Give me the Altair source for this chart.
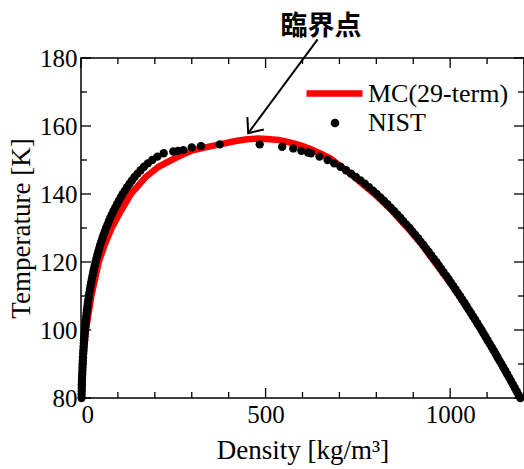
import altair as alt
import pandas as pd

# NIST saturation curve (oxygen): temperature grid [K] and the two branch densities [kg/m^3]
nist_temp = [80, 81, 82, 83, 84, 85, 86, 87, 88, 89,
             90, 91, 92, 93, 94, 95, 96, 97, 98, 99,
             100, 101, 102, 103, 104, 105, 106, 107, 108, 109,
             110, 111, 112, 113, 114, 115, 116, 117, 118, 119,
             120, 121, 122, 123, 124, 125, 126, 127, 128, 129,
             130, 131, 132, 133, 134, 135, 136, 137, 138, 139,
             140, 141, 142, 143, 144, 145, 146, 147, 148, 149,
             150, 151, 152]
nist_rho_vapor = [1.5, 1.7, 1.9, 2.1, 2.3, 2.5, 2.9, 3.3, 3.7, 4.1,
                  4.4, 4.9, 5.4, 5.9, 6.4, 7.0, 7.7, 8.4, 9.1, 9.8,
                  10.5, 11.4, 12.3, 13.2, 14.2, 15.2, 16.4, 17.6, 18.8, 20.1,
                  21.4, 22.9, 24.4, 26.0, 27.7, 29.5, 31.4, 33.3, 35.3, 37.4,
                  39.5, 41.9, 44.3, 46.8, 49.4, 52.0, 55.1, 58.2, 61.3, 64.6,
                  68.0, 71.8, 75.6, 79.6, 83.7, 88.0, 92.8, 97.7, 102.7, 107.8,
                  113.0, 118.9, 125.0, 131.4, 138.0, 145.0, 153.0, 161.5, 170.5, 181.0,
                  193.0, 207.0, 224.0]
nist_rho_liquid = [1190.0, 1185.0, 1180.0, 1175.0, 1169.9, 1164.8, 1159.7, 1154.5, 1149.3, 1144.1,
                   1138.9, 1133.5, 1128.2, 1122.9, 1117.6, 1112.3, 1106.8, 1101.3, 1095.8, 1090.3,
                   1084.8, 1079.2, 1073.5, 1067.8, 1062.0, 1056.3, 1050.4, 1044.5, 1038.5, 1032.6,
                   1026.6, 1020.4, 1014.2, 1008.0, 1001.7, 995.5, 989.0, 982.0, 975.5, 969.0,
                   962.6, 955.5, 948.5, 941.5, 934.5, 927.6, 920.0, 913.0, 905.0, 897.5,
                   890.0, 881.5, 873.0, 865.0, 856.5, 848.0, 839.0, 830.0, 820.5, 811.0,
                   801.0, 791.0, 780.0, 769.0, 757.0, 744.5, 731.5, 718.0, 703.0, 686.0,
                   668.0, 646.0, 623.0]
# points close to the critical point
crit_temp = [152.5, 152.7, 152.9, 153.7, 154.1, 154.6, 154.6, 153.9, 153.4, 152.7, 152.2]
crit_rho = [250, 263, 277, 300, 325, 376, 484, 545, 575, 597, 615]

# MC(29-term) coexistence curve, traced from the vapour end to the liquid end
mc_rho = [1.5, 5, 13.5, 28, 48, 64, 83, 108, 135, 175, 210, 245, 268, 300, 340, 377,
          415, 450, 480, 504, 535, 560, 593, 620, 647, 675, 740, 795, 843, 885, 924,
          958, 992, 1024, 1084, 1139, 1190]
mc_temp = [80, 90, 100, 110, 120, 125, 130, 135, 140, 145, 148, 150, 151.2, 152.8, 153.8, 154.6,
           155.5, 156.1, 156.3, 156.2, 155.9, 155.3, 154.4, 153.3, 152, 150.5, 145, 140, 135, 130, 125,
           120, 115, 110, 100, 90, 80]

# axis ticks
x_ticks = [0, 100, 200, 300, 400, 500, 600, 700, 800, 900, 1000, 1100, 1200]
y_ticks = [80, 90, 100, 110, 120, 130, 140, 150, 160, 170, 180]
x_labels = [0, 500, 1000]
y_labels = [80, 100, 120, 140, 160, 180]

# critical point annotation: label position, arrow tail and arrow tip
note_text = ["臨界点"]
note_rho = [650]
note_temp = [189.0]
arrow_rho = [641, 453]
arrow_temp = [185.5, 157.9]

W, H = 443, 340
SERIF = "Liberation Serif"

nist = pd.DataFrame({
    "rho": nist_rho_vapor + crit_rho + nist_rho_liquid,
    "T": nist_temp + crit_temp + nist_temp,
})
nist["series"] = "NIST"
mc = pd.DataFrame({"rho": mc_rho, "T": mc_temp, "i": list(range(len(mc_rho)))})
mc["series"] = "MC(29-term)"

xscale = alt.Scale(domain=[0, 1200], nice=False, zero=False)
yscale = alt.Scale(domain=[80, 180], nice=False, zero=False)
x_axis = alt.Axis(values=x_labels, format="d", ticks=False, tickSize=0, domain=False, grid=False,
                  labelPadding=4, title="Density [kg/m³]", titlePadding=10)
y_axis = alt.Axis(values=y_labels, format="d", ticks=False, tickSize=0, domain=False, grid=False,
                  labelPadding=4, title="Temperature [K]", titlePadding=4)


def X(field):
    return alt.X(f"{field}:Q", scale=xscale, axis=x_axis)


def Y(field):
    return alt.Y(f"{field}:Q", scale=yscale, axis=y_axis)


mc_line = alt.Chart(mc).mark_line(strokeWidth=6.5).encode(
    x=X("rho"), y=Y("T"), order=alt.Order("i:Q"),
    color=alt.Color("series:N", scale=alt.Scale(domain=["MC(29-term)"], range=["#ff0000"]),
                    legend=alt.Legend(orient="none", legendX=222, legendY=4, title=None,
                                      symbolType="stroke", symbolSize=3136, symbolStrokeWidth=6.5,
                                      labelOffset=2, labelFont=SERIF, labelFontSize=26,
                                      labelColor="black", labelLimit=400, padding=0)),
)

nist_pts = alt.Chart(nist).mark_point(filled=True, size=70, opacity=1, color="black").encode(
    x=X("rho"), y=Y("T"),
    shape=alt.Shape("series:N", scale=alt.Scale(domain=["NIST"], range=["circle"]),
                    legend=alt.Legend(orient="none", legendX=241, legendY=52, title=None,
                                      symbolSize=75, symbolFillColor="black",
                                      symbolStrokeColor="black", symbolStrokeWidth=0,
                                      labelOffset=20, labelFont=SERIF, labelFontSize=26,
                                      labelColor="black", labelLimit=400, padding=0)),
)

# inward frame ticks
xt = alt.Chart(pd.DataFrame({"v": x_ticks}))
yt = alt.Chart(pd.DataFrame({"v": y_ticks}))
major_x = "datum.v % 500 == 0"
minor_x = "datum.v % 500 != 0"
major_y = "datum.v % 20 == 0"
minor_y = "datum.v % 20 != 0"
rule = dict(color="black", strokeWidth=1.3)

tick_layers = [
    xt.transform_filter(major_x).mark_rule(**rule).encode(x=X("v"), y=alt.value(H), y2=alt.value(H - 10)),
    xt.transform_filter(minor_x).mark_rule(**rule).encode(x=X("v"), y=alt.value(H), y2=alt.value(H - 6)),
    xt.transform_filter(major_x).mark_rule(**rule).encode(x=X("v"), y=alt.value(0), y2=alt.value(10)),
    xt.transform_filter(minor_x).mark_rule(**rule).encode(x=X("v"), y=alt.value(0), y2=alt.value(6)),
    yt.transform_filter(major_y).mark_rule(**rule).encode(y=Y("v"), x=alt.value(0), x2=alt.value(10)),
    yt.transform_filter(minor_y).mark_rule(**rule).encode(y=Y("v"), x=alt.value(0), x2=alt.value(6)),
    yt.transform_filter(major_y).mark_rule(**rule).encode(y=Y("v"), x=alt.value(W), x2=alt.value(W - 10)),
    yt.transform_filter(minor_y).mark_rule(**rule).encode(y=Y("v"), x=alt.value(W), x2=alt.value(W - 6)),
]

arrow_df = pd.DataFrame({"rho": arrow_rho, "T": arrow_temp})
arrow_shaft = alt.Chart(arrow_df).mark_line(color="black", strokeWidth=2).encode(
    x=X("rho"), y=Y("T"))
arrow_head = alt.Chart(arrow_df.iloc[[1]]).mark_point(
    shape="M -0.643 -0.766 L 0 0 L 0.643 -0.766", filled=False, strokeWidth=2,
    color="black", opacity=1, size=1024, angle=36.9,
).encode(x=X("rho"), y=Y("T"))
note = alt.Chart(pd.DataFrame({"rho": note_rho, "T": note_temp, "t": note_text})).mark_text(
    font="Noto Sans CJK JP", fontSize=27, fontWeight="bold", color="black",
    align="center", baseline="middle",
).encode(x=X("rho"), y=Y("T"), text="t:N")

chart = alt.layer(
    mc_line, nist_pts, *tick_layers, arrow_shaft, arrow_head, note,
).resolve_legend(color="independent", shape="independent").properties(
    width=W, height=H,
    background="white",
    autosize=alt.AutoSizeParams(type="none"),
    padding={"left": 81, "top": 58, "right": 0, "bottom": 71},
).configure_view(
    stroke="black", strokeWidth=1.5,
).configure_axis(
    labelFont=SERIF, labelFontSize=25, labelColor="black",
    titleFont=SERIF, titleFontSize=27, titleFontWeight="normal", titleColor="black",
)

chart.save("out.html", embed_options={"renderer": "svg", "actions": False})
